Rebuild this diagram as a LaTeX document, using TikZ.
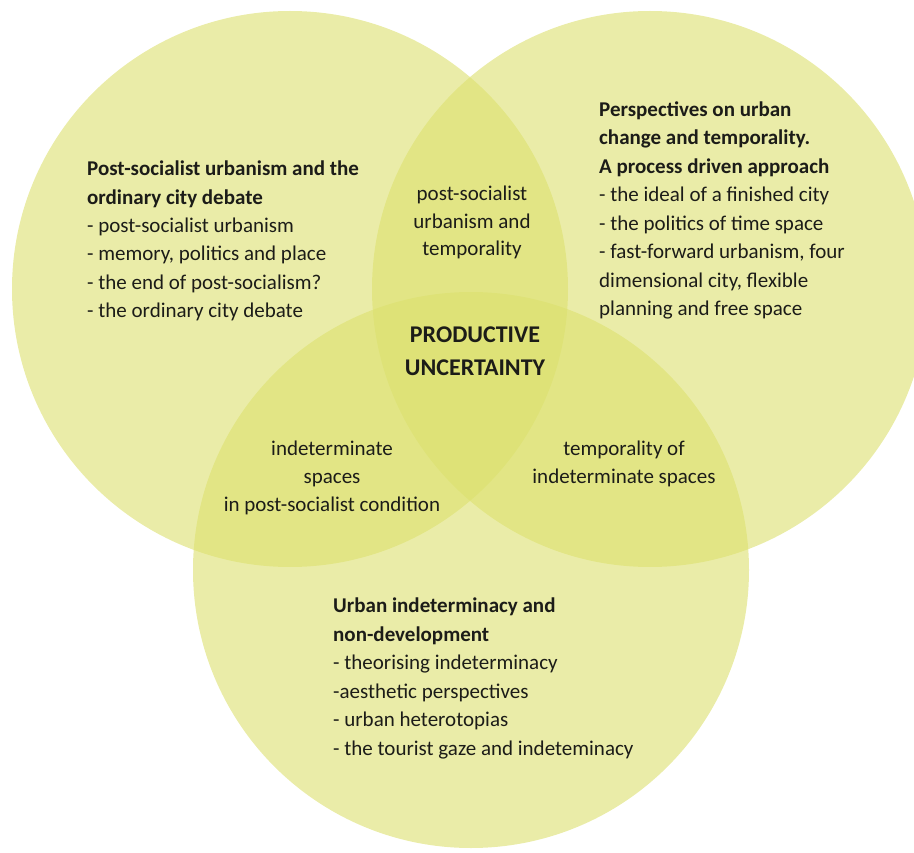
\documentclass[tikz,border=0pt]{standalone}
\usepackage{fontspec}
\setmainfont{Carlito}
\definecolor{vennfill}{RGB}{220,224,110}
\definecolor{ink}{RGB}{28,28,24}
\begin{document}
\begin{tikzpicture}[x=1pt,y=-1pt,
  venn/.style={circle, minimum size=556pt, inner sep=0pt, fill=vennfill, fill opacity=0.6, draw=none},
  % multi-line nodes are placed by the baseline of their last line
  block/.style={align=left, inner sep=0pt, anchor=base west, text=ink,
    font=\fontsize{21}{28.5}\selectfont},
  lens/.style={align=center, inner sep=0pt, anchor=base, text=ink,
    font=\fontsize{21}{27.7}\selectfont},
  core/.style={align=center, inner sep=0pt, anchor=base, text=ink,
    font=\fontsize{24}{33}\selectfont\bfseries}
]
\useasboundingbox (0,0) rectangle (914,853);

% the three overlapping sets
\node[venn] (left)   at (290,289) {};
\node[venn] (right)  at (650,289) {};
\node[venn] (bottom) at (471,570) {};

% set descriptions
\node[block] (lefttext) at (87,318) {\textbf{Post-socialist urbanism and the}\\
  \textbf{ordinary city debate}\\
  - post-socialist urbanism\\
  - memory, politics and place\\
  - the end of post-socialism?\\
  - the ordinary city debate};

\node[block] (righttext) at (599,316) {\textbf{Perspectives on urban}\\
  \textbf{change and temporality.}\\
  \textbf{A process driven approach}\\
  - the ideal of a finished city\\
  - the politics of time space\\
  - fast-forward urbanism, four\\
  dimensional city, flexible\\
  planning and free space};

\node[block] (bottomtext) at (333,755) {\textbf{Urban indeterminacy and}\\
  \textbf{non-development}\\
  - theorising indeterminacy\\
  -aesthetic perspectives\\
  - urban heterotopias\\
  - the tourist gaze and indeteminacy};

% pairwise intersections
\node[lens] (toplens) at (472,256) {post-socialist\\urbanism and\\temporality};
\node[lens] (leftlens) at (332,511) {indeterminate\\spaces\\in post-socialist condition};
\node[lens] (rightlens) at (624,483) {temporality of\\indeterminate spaces};

% common core
\node[core] (centre) at (475,376) {PRODUCTIVE\\UNCERTAINTY};
\end{tikzpicture}
\end{document}
